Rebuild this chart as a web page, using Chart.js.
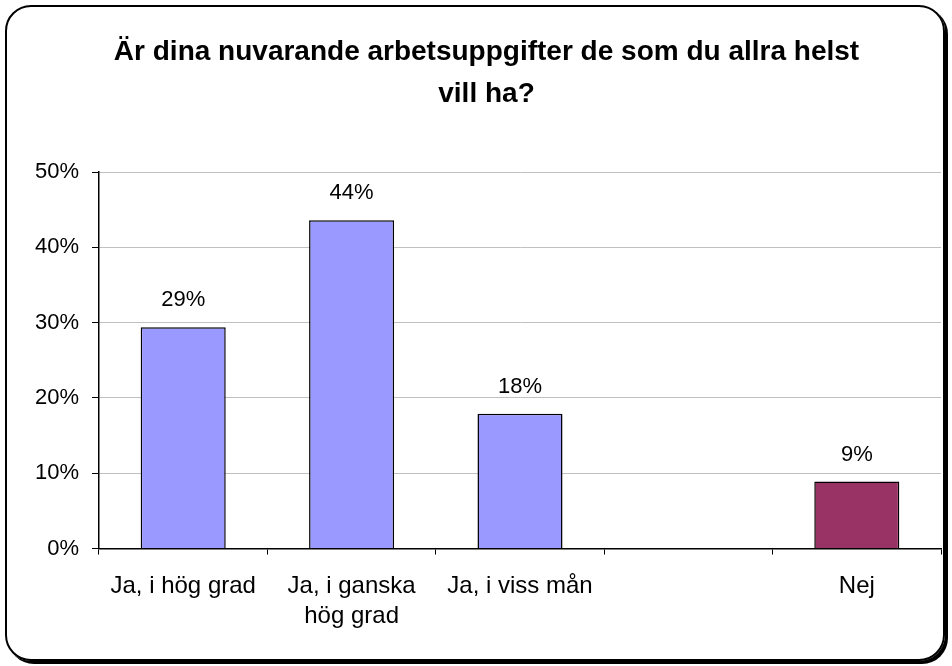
<!DOCTYPE html>
<html>
<head>
<meta charset="utf-8">
<script src="https://cdn.jsdelivr.net/npm/chart.js@4"></script>
<style>
  body { margin: 0; background: #fff; }
  #frame {
    position: absolute; left: 5px; top: 5px; width: 936px; height: 652px;
    border: 2px solid #000; border-radius: 26px;
    box-shadow: 3px 3px 0 #000;
  }
  #myChart { position: absolute; left: 0; top: 0; }
</style>
</head>
<body>
<div id="frame"></div>
<canvas id="myChart" width="952" height="666"></canvas>
<script>
var categories = ["Ja, i hög grad", ["Ja, i ganska", "hög grad"], "Ja, i viss mån", "", "Nej"];
var values = [29.4, 43.6, 17.9, null, 8.9];
var barColors = ["#9999FF", "#9999FF", "#9999FF", "#9999FF", "#993366"];
var yTicks = [0, 10, 20, 30, 40, 50];
var titleLines = ["Är dina nuvarande arbetsuppgifter de som du allra helst", "vill ha?"];

// value labels above the bars
var barLabels = {
    id: "barLabels",
    afterDatasetsDraw(chart) {
        var ctx = chart.ctx;
        var meta = chart.getDatasetMeta(0);
        ctx.save();
        ctx.font = "22px 'Liberation Sans', Arial, sans-serif";
        ctx.fillStyle = "#000";
        ctx.textAlign = "center";
        ctx.textBaseline = "alphabetic";
        meta.data.forEach(function (bar, i) {
            if (values[i] == null) return;
            ctx.fillText(Math.round(values[i]) + "%", bar.x, bar.y - 21);
        });
        ctx.restore();
    }
};

new Chart("myChart", {
    type: "bar",
    data: {
        labels: categories,
        datasets: [{
            data: values,
            backgroundColor: barColors,
            borderColor: "#000",
            borderWidth: 1.5,
            barPercentage: 0.505,
            categoryPercentage: 1
        }]
    },
    options: {
        responsive: false,
        animation: false,
        layout: { padding: { left: 32, right: 11, top: 20, bottom: 18 } },
        plugins: {
            legend: { display: false },
            tooltip: { enabled: false },
            title: {
                display: true,
                text: titleLines,
                color: "#000",
                font: { family: "'Liberation Sans', Arial, sans-serif", size: 28, weight: "bold", lineHeight: 1.5 },
                padding: { top: 11, bottom: 57 }
            }
        },
        scales: {
            x: {
                offset: true,
                grid: {
                    offset: true,
                    drawOnChartArea: true,
                    color: function (c) { return c.index === categories.length ? "#c0c0c0" : "rgba(0,0,0,0)"; },
                    tickColor: "#000",
                    tickLength: 6
                },
                border: { color: "#000", width: 1.5 },
                ticks: {
                    color: "#000",
                    padding: 16,
                    maxRotation: 0,
                    autoSkip: false,
                    font: { family: "'Liberation Sans', Arial, sans-serif", size: 24, lineHeight: 1.28 }
                }
            },
            y: {
                min: 0,
                max: 50,
                afterBuildTicks: function (axis) { axis.ticks = yTicks.map(function (v) { return { value: v }; }); },
                afterFit: function (axis) { axis.width = 67; },
                grid: { color: "#c0c0c0", tickColor: "#000", tickLength: 7 },
                border: { color: "#000", width: 1.5 },
                ticks: {
                    color: "#000",
                    padding: 13,
                    font: { family: "'Liberation Sans', Arial, sans-serif", size: 22 },
                    callback: function (v) { return v + "%"; }
                }
            }
        }
    },
    plugins: [barLabels]
});
</script>
</body>
</html>
